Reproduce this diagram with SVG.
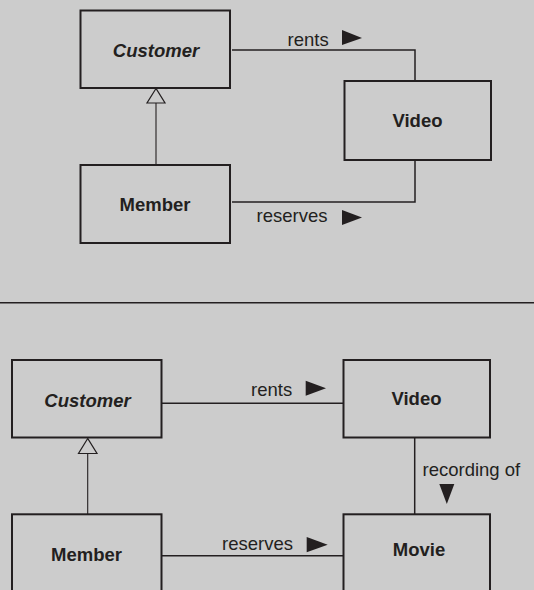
<svg xmlns="http://www.w3.org/2000/svg" width="534" height="590" viewBox="0 0 534 590">
<style>
.box{fill:none;stroke:#231f20;stroke-width:2}
.cls{font-family:"Liberation Sans",Arial,sans-serif;font-weight:bold;font-size:18.5px;fill:#231f20;text-anchor:middle}
.abs{font-style:italic}
.lbl{font-family:"Liberation Sans",Arial,sans-serif;font-size:18.5px;fill:#231f20}
.assoc{fill:none;stroke:#231f20;stroke-width:1.5}
.gen{fill:none;stroke:#231f20;stroke-width:1.1}
.hollow{fill:#cccccc;stroke:#231f20;stroke-width:1.2}
.dir{fill:#231f20}
</style>
<rect x="0" y="0" width="534" height="590" fill="#cccccc"/>
<line x1="0" y1="302.7" x2="534" y2="302.7" stroke="#231f20" stroke-width="1.6"/>
<g id="connectors">
<polyline class="assoc" points="232,50 415,50 415,81"/>
<polyline class="assoc" points="232,202 415,202 415,160"/>
<line class="gen" x1="156" y1="165" x2="156" y2="103"/>
<polygon class="hollow" points="156,88.5 147,103 165,103"/>
<text class="lbl" x="287.5" y="46">rents</text>
<polygon class="dir" points="342,30 362,38 342,45"/>
<text class="lbl" x="256.5" y="222">reserves</text>
<polygon class="dir" points="342,210 362,217.5 342,225"/>
<line class="assoc" x1="162" y1="403.3" x2="344" y2="403.3"/>
<line class="assoc" x1="162" y1="555.7" x2="344" y2="555.7"/>
<line class="assoc" x1="414.7" y1="438" x2="414.7" y2="514"/>
<line class="gen" x1="87.7" y1="514" x2="87.7" y2="453.5"/>
<polygon class="hollow" points="87.7,438.5 78.5,453.5 97,453.5"/>
<text class="lbl" x="251" y="396">rents</text>
<polygon class="dir" points="305.7,380.7 326,388.2 305.7,395.7"/>
<text class="lbl" x="222" y="550">reserves</text>
<polygon class="dir" points="306.7,537 327.7,544.7 306.7,552.3"/>
<text class="lbl" x="422.5" y="476">recording of</text>
<polygon class="dir" points="439.3,484 454.3,484 446.8,504"/>
</g>
<g id="customer1"><rect class="box" x="80.5" y="10.5" width="149.5" height="77.5"/><text class="cls abs" x="156" y="56.5">Customer</text></g>
<g id="member1"><rect class="box" x="80.5" y="165" width="149.5" height="78"/><text class="cls" x="155" y="211">Member</text></g>
<g id="video1"><rect class="box" x="344.5" y="81" width="146.5" height="79"/><text class="cls" x="417.5" y="127">Video</text></g>
<g id="customer2"><rect class="box" x="12" y="360" width="149.5" height="77.5"/><text class="cls abs" x="87.5" y="406.7">Customer</text></g>
<g id="video2"><rect class="box" x="343.5" y="360" width="146.5" height="77.5"/><text class="cls" x="416.5" y="405">Video</text></g>
<g id="member2"><rect class="box" x="12" y="514.3" width="149.5" height="90"/><text class="cls" x="86.5" y="560.7">Member</text></g>
<g id="movie"><rect class="box" x="343.5" y="514.3" width="146.5" height="90"/><text class="cls" x="419" y="555.7">Movie</text></g>
</svg>
